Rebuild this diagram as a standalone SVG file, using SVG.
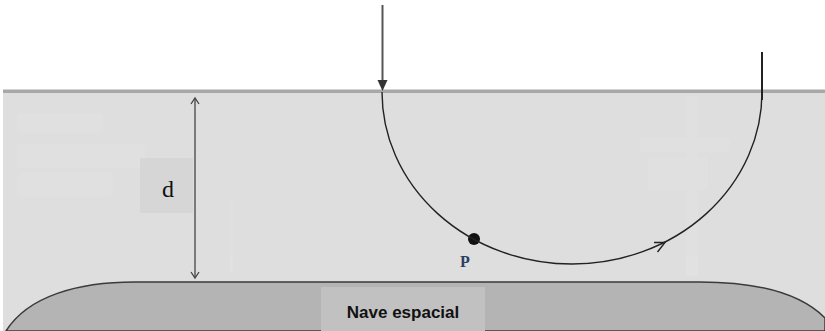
<svg xmlns="http://www.w3.org/2000/svg" width="825" height="331" viewBox="0 0 825 331">
  <defs>
    <style>
      .ghost { fill: #e4e4e4; }
      .traj { fill: none; stroke: #222; stroke-width: 1.4; }
      .dim { fill: none; stroke: #444; stroke-width: 1.3; }
    </style>
  </defs>
  <rect x="0" y="0" width="825" height="331" fill="#ffffff"/>
  <g id="field">
    <rect x="3" y="92" width="822" height="239" fill="#dedede"/>
    <rect x="3" y="89.5" width="822" height="3.5" fill="#a8a8a8"/>
    <g opacity="0.45">
      <rect class="ghost" x="17" y="113" width="86" height="20" rx="5"/>
      <rect class="ghost" x="17" y="144" width="128" height="24" rx="5"/>
      <rect class="ghost" x="17" y="172" width="96" height="25" rx="5"/>
      <rect class="ghost" x="230" y="200" width="3" height="72"/>
      <rect class="ghost" x="686" y="96" width="12" height="180"/>
      <rect class="ghost" x="640" y="138" width="90" height="14" rx="4"/>
      <rect class="ghost" x="648" y="158" width="60" height="32" rx="4"/>
    </g>
  </g>
  <g id="ship">
    <path d="M6,331 C28,296 78,282 135,282 L700,282 C758,282 800,293 825,318 L825,331 Z" fill="#b4b4b4" stroke="#3a3a3a" stroke-width="1.5"/>
    <rect x="321" y="287" width="164" height="44" fill="#c1c1c1"/>
    <text x="403" y="318" text-anchor="middle" font-family="Liberation Sans, Arial, sans-serif" font-weight="bold" font-size="17" fill="#111">Nave espacial</text>
  </g>
  <g id="distance-d">
    <rect x="140" y="158" width="53" height="55" fill="#d6d6d6"/>
    <text x="168" y="197" text-anchor="middle" font-family="Liberation Serif, Times New Roman, serif" font-size="24" fill="#111">d</text>
  </g>
  <g id="point-P">
    <circle cx="474" cy="239" r="6" fill="#111"/>
    <text x="465" y="267" text-anchor="middle" font-family="Liberation Serif, Times New Roman, serif" font-weight="bold" font-size="16" fill="#2b3f63">P</text>
  </g>
  <g id="connectors">
    <line class="dim" x1="195" y1="98" x2="195" y2="278"/>
    <polyline class="dim" points="191,104 195,98 199,104"/>
    <polyline class="dim" points="191,272 195,278 199,272"/>
    <line x1="382.5" y1="5" x2="382.5" y2="81" stroke="#555" stroke-width="2"/>
    <polygon points="377.5,80 387.5,80 382.5,91" fill="#333"/>
    <path class="traj" d="M382,92 A190,172 0 0,0 762,92 L762,52"/>
    <line x1="762" y1="52" x2="762" y2="100" stroke="#222" stroke-width="2"/>
    <polyline class="traj" points="654,242.5 665,242.5 657.5,252"/>
  </g>
</svg>
